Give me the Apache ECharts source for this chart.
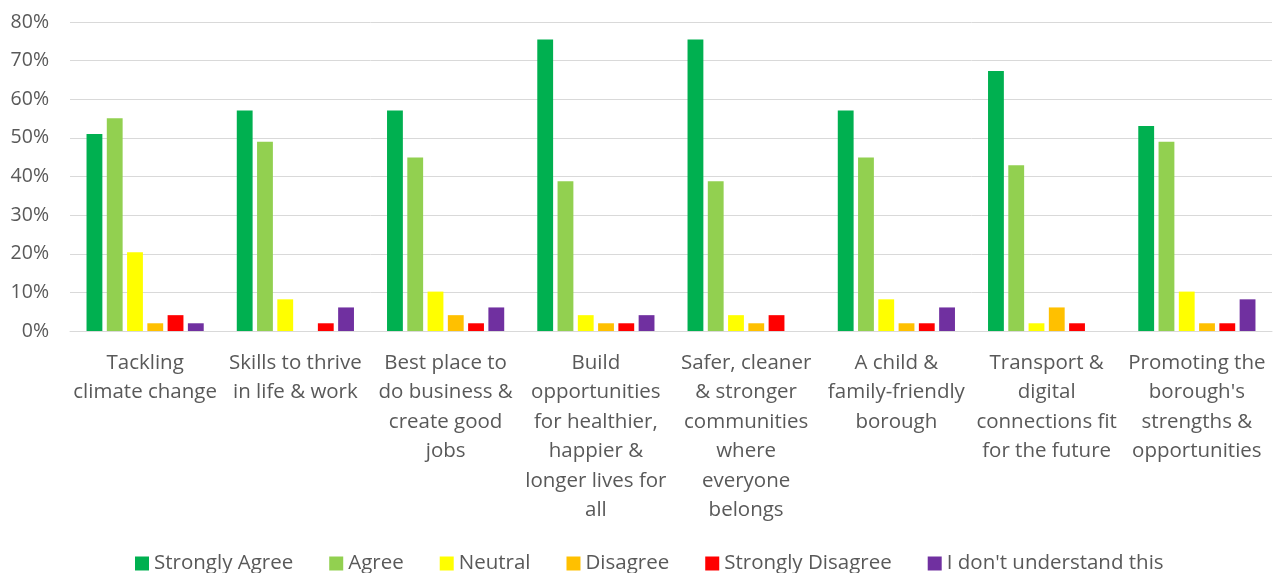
<!DOCTYPE html>
<html><head><meta charset="utf-8">
<script src="https://cdn.jsdelivr.net/npm/echarts@6/dist/echarts.min.js"></script>
<style>html,body{margin:0;padding:0;background:#fff}#c{width:1277px;height:573px}</style>
</head><body><div id="c"></div>
<script>
const categories = [
  "Tackling\nclimate change",
  "Skills to thrive\nin life & work",
  "Best place to\ndo business &\ncreate good\njobs",
  "Build\nopportunities\nfor healthier,\nhappier &\nlonger lives for\nall",
  "Safer, cleaner\n& stronger\ncommunities\nwhere\neveryone\nbelongs",
  "A child &\nfamily-friendly\nborough",
  "Transport &\ndigital\nconnections fit\nfor the future",
  "Promoting the\nborough's\nstrengths &\nopportunities"
];
const seriesNames = ["Strongly Agree","Agree","Neutral","Disagree","Strongly Disagree","I don't understand this"];
const stronglyAgree = [51.0, 57.1, 57.1, 75.5, 75.5, 57.1, 67.3, 53.1];
const agree         = [55.1, 49.0, 44.9, 38.8, 38.8, 44.9, 42.9, 49.0];
const neutral       = [20.4, 8.2, 10.2, 4.1, 4.1, 8.2, 2.0, 10.2];
const disagree      = [2.0, 0, 4.1, 2.0, 2.0, 2.0, 6.1, 2.0];
const stronglyDisagree = [4.1, 2.0, 2.0, 2.0, 4.1, 2.0, 2.0, 2.0];
const dontUnderstand   = [2.0, 6.1, 6.1, 4.1, 0, 6.1, 0, 8.2];
const yTicks = [0,10,20,30,40,50,60,70,80];
const colors = ["#00B050","#92D050","#FFFF00","#FFC000","#FF0000","#7030A0"];
const allData = [stronglyAgree, agree, neutral, disagree, stronglyDisagree, dontUnderstand];
const font = "Open Sans";
const chart = echarts.init(document.getElementById('c'));
chart.setOption({
  animation: false,
  color: colors,
  grid: {left: 70, right: 5, top: 22, bottom: 242, containLabel: false},
  legend: {
    bottom: -6, left: 130, itemWidth: 14, itemHeight: 14, itemGap: 36,
    icon: 'rect',
    textStyle: {fontFamily: font, fontSize: 20.5, color: '#595959', padding: [0,0,0,0]},
    data: seriesNames
  },
  xAxis: {
    type: 'category', data: categories,
    axisLine: {lineStyle: {color: '#d9d9d9', width: 1}},
    axisTick: {show: false},
    axisLabel: {interval: 0, fontFamily: font, fontSize: 20.5, color: '#595959', lineHeight: 29.5, margin: 17}
  },
  yAxis: {
    type: 'value', min: yTicks[0], max: yTicks[yTicks.length-1], interval: 10,
    axisLine: {show: false}, axisTick: {show: false},
    splitLine: {lineStyle: {color: '#d9d9d9', width: 1}},
    axisLabel: {fontFamily: font, fontSize: 19.5, color: '#595959', formatter: v => v + '%', margin: 21}
  },
  series: seriesNames.map((n, i) => ({
    name: n, type: 'bar', data: allData[i],
    barGap: '28%', barCategoryGap: '22%',
    itemStyle: {color: colors[i]}
  }))
});
</script></body></html>
